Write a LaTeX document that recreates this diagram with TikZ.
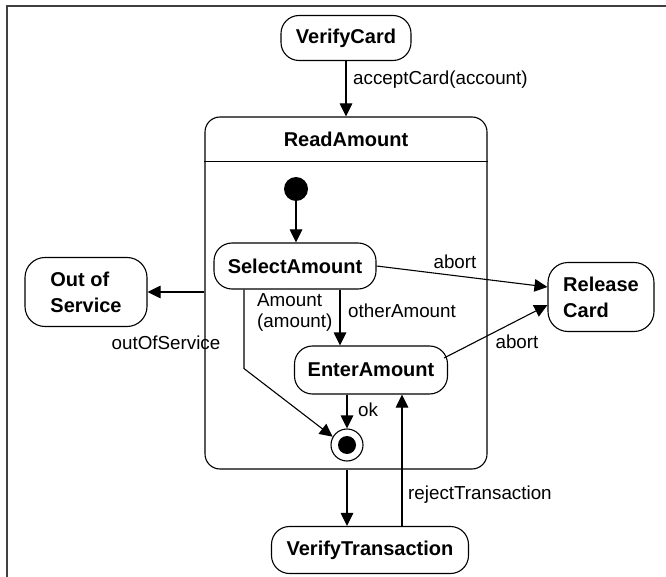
\documentclass[tikz,border=0pt]{standalone}
\usepackage{fontspec}
\setmainfont{Liberation Sans}
\usetikzlibrary{arrows.meta,calc}
\begin{document}
\begin{tikzpicture}[x=1pt,y=-1pt,
  state/.style={draw, line width=1.1pt, rounded corners=18pt,
    font=\fontsize{20}{26}\selectfont\bfseries, inner sep=0pt, align=left},
  lbl/.style={font=\fontsize{18.8}{21}\selectfont, inner sep=0pt, align=left},
  arr/.style={line width=1.1pt, -{Triangle[length=13pt,width=12.5pt]}},
  ln/.style={line width=1.1pt}]

% page and frame
\fill[white] (0,0) rectangle (666,577);
\useasboundingbox (0,0) rectangle (666,577);
\draw[line width=1.5pt, black!75] (666,6) -- (7,6) -- (7,577);

% outer states
\node[state, minimum width=130pt, minimum height=45pt] (verifycard) at (346,38) {VerifyCard};
\node[state, minimum width=122pt, minimum height=69pt, rounded corners=20pt] (oos) at (86,292) {Out of\\Service};
\node[state, minimum width=106pt, minimum height=69pt, rounded corners=20pt] (release) at (601,297) {Release\\Card};
\node[state, minimum width=197pt, minimum height=47pt] (verifytrans) at (370,550) {VerifyTransaction};

% composite state ReadAmount
\node[draw, line width=1.1pt, rounded corners=15pt, minimum width=282pt, minimum height=352pt, inner sep=0pt] (readamount) at (346,293) {};
\draw[ln] ([yshift=-45pt]readamount.north west) -- ([yshift=-45pt]readamount.north east);
\node[font=\fontsize{20}{24}\selectfont\bfseries, inner sep=0pt] (ratitle) at ([yshift=-23pt]readamount.north) {ReadAmount};

% inner states
\node[circle, fill, minimum size=24pt, inner sep=0pt] (init) at (296,189) {};
\node[state, minimum width=162pt, minimum height=46pt] (select) at (295,266) {SelectAmount};
\node[state, minimum width=153pt, minimum height=48pt] (enter) at (371,370) {EnterAmount};
\node[circle, draw, line width=1.1pt, minimum size=32pt, inner sep=0pt] (final) at (347,445) {};
\fill (final) circle (9pt);

% transitions
\draw[arr] (verifycard) -- (verifycard |- readamount.north);
\draw[arr] (init) -- (init |- select.north);
\draw[arr] (readamount.west |- oos.east) -- (oos.east);
\draw[arr] (select.east) -- ([yshift=10pt]release.west);
\draw[arr] ([xshift=-4pt,yshift=12pt]enter.east) -- ([yshift=-8pt]release.west);
\draw[arr] ([xshift=45pt]select.south) -- ([xshift=45pt]select.south |- enter.north);
\draw[arr] ([xshift=-51pt]select.south) -- ++(0,79) -- (final.150);
\draw[arr] (final |- enter.south) -- (final.north);
\draw[arr] (final |- readamount.south) -- (final |- verifytrans.north);
\draw[arr] ([xshift=32pt]verifytrans.north) -- ([xshift=32pt]verifytrans.north |- enter.south);

% transition labels
\node[lbl, anchor=west] (lacc) at (353,80) {acceptCard(account)};
\node[lbl] (labort1) at (455,262) {abort};
\node[lbl] (labort2) at (517,342) {abort};
\node[lbl, anchor=west] (lother) at (348,311) {otherAmount};
\node[lbl, anchor=west] (lamount) at (257,312) {Amount\\(amount)};
\node[lbl] (loos) at (166,343) {outOfService};
\node[lbl, anchor=west] (lok) at (358,410) {ok};
\node[lbl, anchor=west] (lreject) at (408,495) {rejectTransaction};
\end{tikzpicture}
\end{document}
